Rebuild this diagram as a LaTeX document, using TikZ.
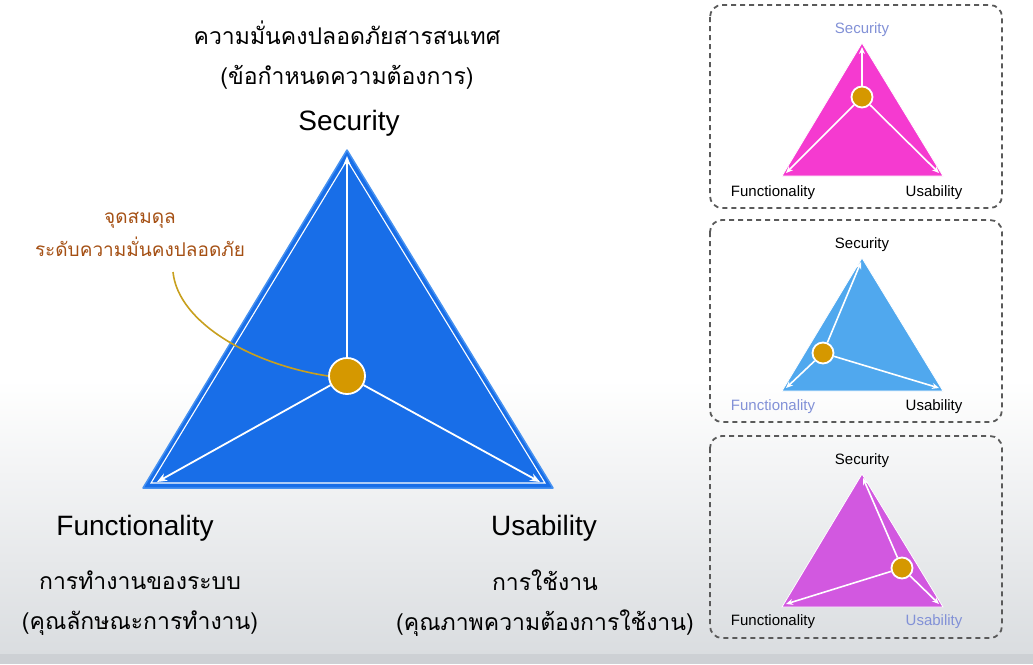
\documentclass[tikz,border=0pt]{standalone}
\usepackage{fontspec}
\setmainfont{Liberation Sans}
\newfontfamily\thaifont[Script=Thai]{Loma}
\usetikzlibrary{arrows.meta}

\definecolor{mainblue}{RGB}{24,110,232}
\definecolor{edgeblue}{RGB}{70,145,240}
\definecolor{dotgold}{RGB}{213,152,0}
\definecolor{notebrown}{RGB}{165,80,20}
\definecolor{curvegold}{RGB}{200,160,30}
\definecolor{pinkfill}{RGB}{245,58,208}
\definecolor{skyfill}{RGB}{80,168,238}
\definecolor{orchidfill}{RGB}{210,88,224}
\definecolor{fadelabel}{RGB}{130,145,215}
\definecolor{framegray}{RGB}{90,90,90}
\definecolor{bggray}{RGB}{218,221,224}
\definecolor{bgstrip}{RGB}{205,208,212}

\tikzset{
  vec/.style={white, line width=1.8pt, -{Stealth[length=10pt,width=8pt]}},
  smallvec/.style={white, line width=1.6pt, -{Stealth[length=7pt,width=6pt]}},
  balance/.style={circle, fill=dotgold, draw=white, line width=1.8pt, minimum size=#1, inner sep=0pt},
  panelbox/.style={draw=framegray, dash pattern=on 5pt off 4pt, line width=1.8pt, rounded corners=12pt},
  smalllabel/.style={font=\fontsize{15}{17}\selectfont},
  biglabel/.style={font=\fontsize{28}{32}\selectfont},
  thaitext/.style={font=\thaifont\fontsize{23}{40}\selectfont, align=center}
}

\begin{document}
\begin{tikzpicture}[x=1pt, y=-1pt]
\useasboundingbox (0,0) rectangle (1033,664);

% Background
\fill[white] (0,0) rectangle (1033,380);
\shade[top color=white, bottom color=bggray] (0,380) rectangle (1033,654);
\fill[bgstrip] (0,654) rectangle (1033,664);

% Headings
\node[thaitext] (title) at (347,55) {ความมั่นคงปลอดภัยสารสนเทศ\\(ข้อกำหนดความต้องการ)};
\node[biglabel] (sec) at (349,123) {Security};
\node[biglabel] (func) at (135,528) {Functionality};
\node[biglabel] (usab) at (544,528) {Usability};
\node[thaitext] (functh) at (140,603) {การทำงานของระบบ\\(คุณลักษณะการทำงาน)};
\node[thaitext] (usabth) at (545,603) {การใช้งาน\\(คุณภาพความต้องการใช้งาน)};

% Main triangle
\coordinate (top) at (347,150);
\coordinate (left) at (143,488);
\coordinate (right) at (553,488);
\fill[mainblue, draw=edgeblue, line width=1.5pt, line join=round] (top) -- (left) -- (right) -- cycle;
\draw[white, line width=1.1pt] (347,160) -- (151,483) -- (545,483) -- cycle;

% Balance point
\node[balance=36pt] (bal) at (347,376) {};
\coordinate (toptip) at (347,156);
\coordinate (lefttip) at (157,482);
\coordinate (righttip) at (540,482);
\draw[vec] (bal) -- (toptip);
\draw[vec] (bal) -- (lefttip);
\draw[vec] (bal) -- (righttip);

% Note
\node[font=\thaifont\fontsize{19}{33}\selectfont, text=notebrown, align=center] (note) at (140,234) {จุดสมดุล\\ระดับความมั่นคงปลอดภัย};
\coordinate (notestart) at (173,272);
\draw[curvegold, line width=1.6pt] (notestart) .. controls (178,322) and (250,364) .. (bal.west);

% Panel 1: security first
\draw[panelbox] (710,5) rectangle (1002,208);
\coordinate (atop) at (862,43);
\coordinate (aleft) at (782,176);
\coordinate (aright) at (943,176);
\fill[pinkfill, draw=white, line width=0.8pt] (atop) -- (aleft) -- (aright) -- cycle;
\node[balance=21pt] (abal) at (862,97) {};
\draw[smallvec] (abal) -- (862,47);
\draw[smallvec] (abal) -- (786,173);
\draw[smallvec] (abal) -- (939,173);
\node[smalllabel, text=fadelabel] (asec) at (862,30) {Security};
\node[smalllabel] (afunc) at (773,193) {Functionality};
\node[smalllabel] (ausab) at (934,193) {Usability};

% Panel 2: functionality first
\draw[panelbox] (710,220) rectangle (1002,422);
\coordinate (btop) at (862,258);
\coordinate (bleft) at (782,391);
\coordinate (bright) at (943,391);
\fill[skyfill, draw=white, line width=0.8pt] (btop) -- (bleft) -- (bright) -- cycle;
\node[balance=21pt] (bbal) at (823,353) {};
\draw[smallvec] (bbal) -- (861,262);
\draw[smallvec] (bbal) -- (786,388);
\draw[smallvec] (bbal) -- (939,388);
\node[smalllabel] (bsec) at (862,245) {Security};
\node[smalllabel, text=fadelabel] (bfunc) at (773,407) {Functionality};
\node[smalllabel] (busab) at (934,407) {Usability};

% Panel 3: usability first
\draw[panelbox] (710,436) rectangle (1002,638);
\coordinate (ctop) at (862,474);
\coordinate (cleft) at (782,607);
\coordinate (cright) at (943,607);
\fill[orchidfill, draw=white, line width=0.8pt] (ctop) -- (cleft) -- (cright) -- cycle;
\node[balance=21pt] (cbal) at (902,568) {};
\draw[smallvec] (cbal) -- (863,478);
\draw[smallvec] (cbal) -- (786,604);
\draw[smallvec] (cbal) -- (939,604);
\node[smalllabel] (csec) at (862,461) {Security};
\node[smalllabel] (cfunc) at (773,622) {Functionality};
\node[smalllabel, text=fadelabel] (cusab) at (934,622) {Usability};
\end{tikzpicture}
\end{document}
